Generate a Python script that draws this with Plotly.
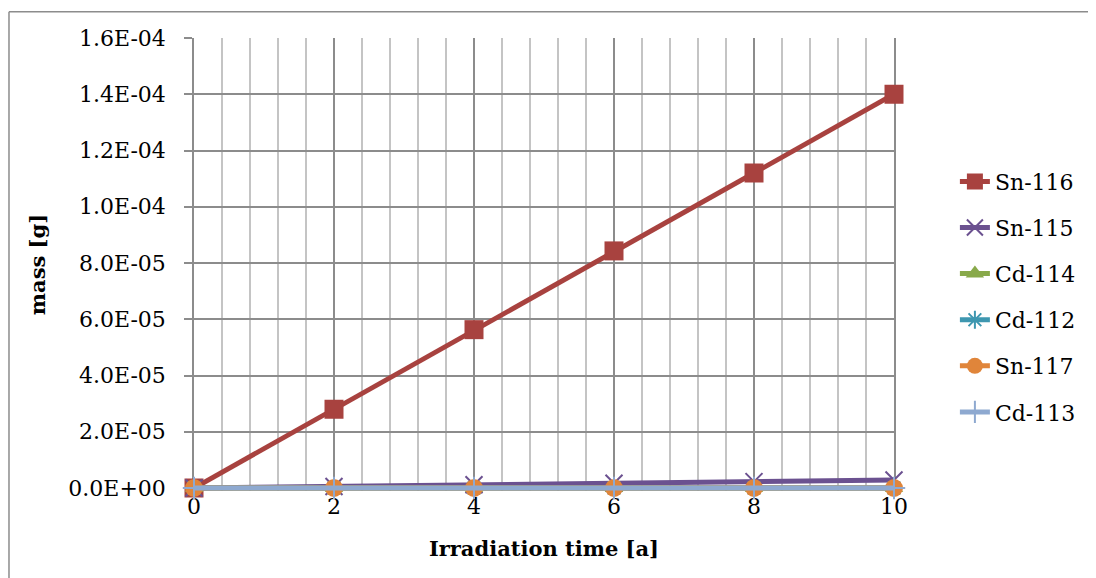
import plotly.graph_objects as go

time_a = [0, 2, 4, 6, 8, 10]
sn116 = [0.0, 2.80e-5, 5.63e-5, 8.43e-5, 1.12e-4, 1.40e-4]
sn115 = [0.0, 5.6e-7, 1.13e-6, 1.70e-6, 2.27e-6, 2.83e-6]
cd114 = [0.0, 2e-9, 4e-9, 6e-9, 8e-9, 1.0e-8]
cd112 = [0.0, 1e-9, 2e-9, 3e-9, 4e-9, 5e-9]
sn117 = [0.0, 1e-9, 2e-9, 3e-9, 4e-9, 5e-9]
cd113 = [0.0, 1e-10, 2e-10, 3e-10, 4e-10, 5e-10]

y_tickvals = [0, 2e-5, 4e-5, 6e-5, 8e-5, 1.0e-4, 1.2e-4, 1.4e-4, 1.6e-4]
y_ticktext = ["0.0E+00", "2.0E-05", "4.0E-05", "6.0E-05", "8.0E-05",
              "1.0E-04", "1.2E-04", "1.4E-04", "1.6E-04"]

FONT = "DejaVu Serif"

series = [
    ("Sn-116", sn116, "#A8423F", dict(symbol="square", size=19)),
    ("Sn-115", sn115, "#6B5190", dict(symbol="x-thin-open", size=17, line=dict(width=2, color="#6B5190"))),
    ("Cd-114", cd114, "#88A94A", dict(symbol="triangle-up", size=16)),
    ("Cd-112", cd112, "#3E97B0", dict(symbol="asterisk-open", size=15, line=dict(width=2, color="#3E97B0"))),
    ("Sn-117", sn117, "#E0853A", dict(symbol="circle", size=18)),
    ("Cd-113", cd113, "#8EA9D0", dict(symbol="cross-thin-open", size=16, line=dict(width=2, color="#8EA9D0"))),
]

fig = go.Figure()
for i, (name, vals, color, mk) in enumerate(series):
    mk = dict(mk)
    mk["color"] = color
    fig.add_trace(go.Scatter(
        x=time_a, y=vals, name=name, mode="lines+markers",
        line=dict(color=color, width=5), marker=mk,
        legendgroup=f"g{i}", cliponaxis=False,
    ))

grid_major = "#8C8C8C"
grid_minor = "#C4C4C4"

# small padding below zero so the thick zero-level lines are not clipped
PLOT_H = 450
PAD_PX = 3
y_top = 1.6e-4
y_pad = PAD_PX * y_top / PLOT_H

fig.update_layout(
    width=1096, height=578,
    margin=dict(l=186, r=210, t=30, b=98 - PAD_PX),
    paper_bgcolor="white", plot_bgcolor="white",
    font=dict(family=FONT, size=22, color="black"),
    showlegend=True,
    legend=dict(x=1.087, xanchor="left", y=0.428, yanchor="middle",
                font=dict(family=FONT, size=22), tracegroupgap=14.5,
                bgcolor="rgba(0,0,0,0)", borderwidth=0),
    xaxis=dict(
        range=[0, 10], tickmode="linear", tick0=0, dtick=2,
        showgrid=True, gridcolor=grid_major, gridwidth=1.5,
        minor=dict(dtick=0.4, showgrid=True, gridcolor=grid_minor, gridwidth=1.5),
        showline=False, ticks="", zeroline=False, layer="below traces",
        tickfont=dict(family=FONT, size=22),
        title=dict(text="<b>Irradiation time [a]</b>", font=dict(family=FONT, size=21), standoff=23),
        automargin=False,
    ),
    yaxis=dict(
        range=[-y_pad, y_top], tickmode="array", tickvals=y_tickvals, ticktext=y_ticktext,
        showgrid=True, gridcolor=grid_major, gridwidth=1.5,
        showline=True, linecolor=grid_major, linewidth=1.5, mirror=True,
        ticks="outside", ticklen=8, tickcolor=grid_major, tickwidth=1.5,
        ticklabelstandoff=14, zeroline=False, layer="below traces",
        tickfont=dict(family=FONT, size=22),
        title=dict(text="<b>mass [g]</b>", font=dict(family=FONT, size=21), standoff=17),
        automargin=False,
    ),
    shapes=[
        dict(type="line", xref="paper", yref="paper", x0=-0.2643, x1=-0.2643, y0=-0.3, y1=1.058,
             line=dict(color="#8C8C8C", width=1.5)),
        dict(type="line", xref="paper", yref="paper", x0=-0.2643, x1=1.4, y0=1.058, y1=1.058,
             line=dict(color="#8C8C8C", width=1.5)),
    ],
)

fig.write_html("out.html")
